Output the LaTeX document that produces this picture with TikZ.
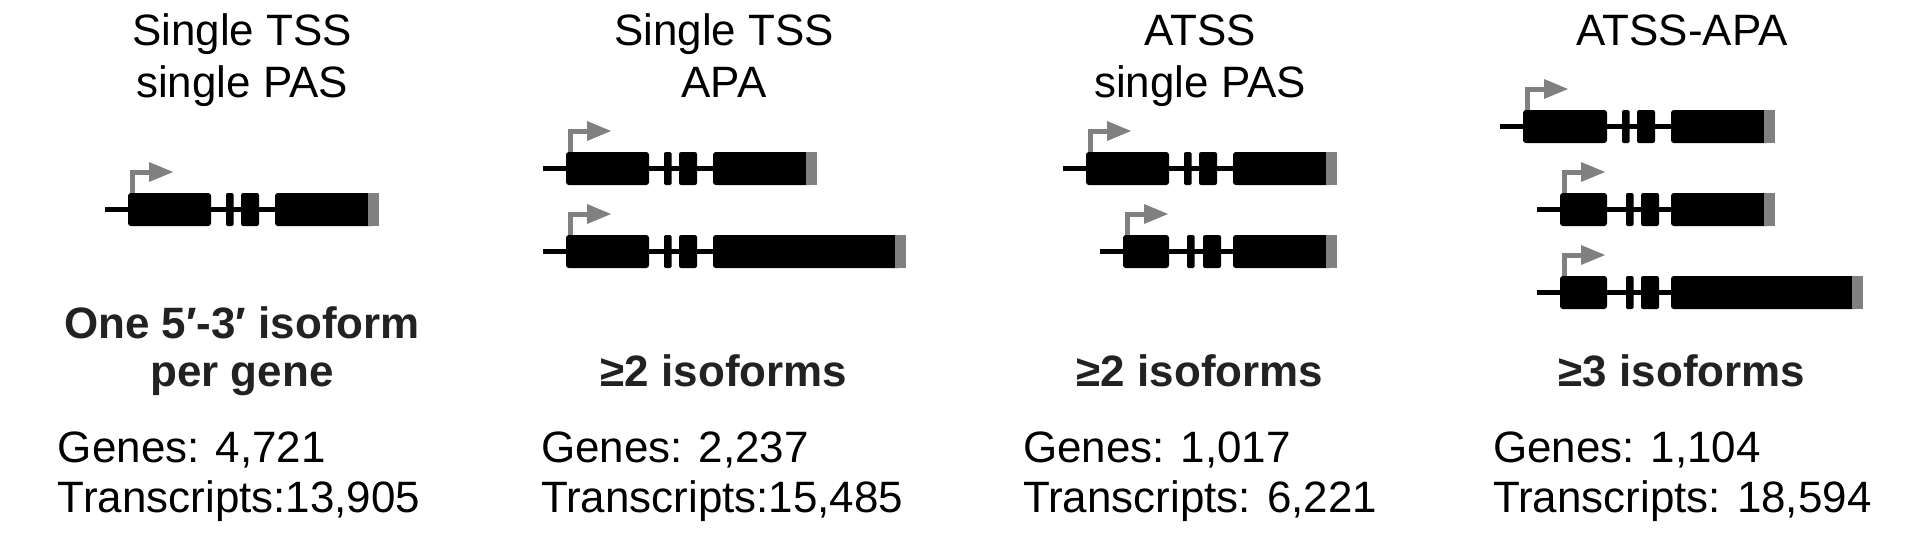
\documentclass[tikz,border=0pt]{standalone}
\usepackage{fontspec}
\setmainfont{Liberation Sans}
\definecolor{tssgrey}{RGB}{128,128,128}
\definecolor{pasgrey}{RGB}{128,128,128}
\definecolor{boldtxt}{RGB}{34,34,34}
% #1 ytop, #2 exon1 start, #3 exon1 end, #4 exon2 start, #5 exon3 start, #6 exon4 start, #7 grey end
\newcommand\genemdl[7]{%
  \draw[line width=0.5mm] ({#2-23},{#1+16.5}) -- (#6,{#1+16.5});
  \draw[tssgrey,line width=0.5mm,line join=miter] ({#2+4.5},{#1+3}) -- ({#2+4.5},{#1-21}) -- ({#2+23},{#1-21});
  \fill[tssgrey] ({#2+21},{#1-31}) -- ({#2+45},{#1-21}) -- ({#2+21},{#1-11}) -- cycle;
  \fill[rounded corners=0.8pt] (#2,#1) rectangle (#3,{#1+33});
  \fill[rounded corners=0.4pt] (#4,#1) rectangle ({#4+7.5},{#1+33});
  \fill[rounded corners=0.6pt] (#5,#1) rectangle ({#5+18},{#1+33});
  \fill[rounded corners=0.8pt] (#6,#1) rectangle ({#7-5},{#1+33});
  \fill[pasgrey] ({#7-11},#1) rectangle (#7,{#1+33});
}
\begin{document}
\begin{tikzpicture}[x=0.1mm,y=-0.1mm,
  txt/.style={inner sep=0pt,outer sep=0pt,font=\fontsize{12.5}{15}\selectfont},
  ttl/.style={txt,anchor=base},
  bld/.style={txt,anchor=base,text=boldtxt,font=\fontsize{12.5}{15}\selectfont\bfseries},
  sts/.style={txt,anchor=base west}]
\useasboundingbox (0,0) rectangle (1920,550);
\fill[white] (0,0) rectangle (1920,550);

% Titles
\node[ttl] (t1a) at (242,45) {Single TSS};
\node[ttl] (t1b) at (242,97) {single PAS};
\node[ttl] (t2a) at (724,45) {Single TSS};
\node[ttl] (t2b) at (724,97) {APA};
\node[ttl] (t3a) at (1200,45) {ATSS};
\node[ttl] (t3b) at (1200,97) {single PAS};
\node[ttl] (t4a) at (1682,45) {ATSS-APA};

% Gene models
\genemdl{193}{128}{211}{226}{241}{275}{379}
\genemdl{152}{566}{649}{664}{679}{713}{817}
\genemdl{235}{566}{649}{664}{679}{713}{906}
\genemdl{152}{1086}{1169}{1184}{1199}{1233}{1337}
\genemdl{235}{1123}{1169}{1187}{1203}{1233}{1337}
\genemdl{110}{1523}{1607}{1622}{1637}{1671}{1775}
\genemdl{193}{1560}{1607}{1626}{1641}{1671}{1775}
\genemdl{276}{1560}{1607}{1626}{1641}{1671}{1863}

% Bold labels
\node[bld] (b1a) at (242,338) {One 5′-3′ isoform};
\node[bld] (b1b) at (242,386) {per gene};
\node[bld] (b2) at (724,386) {≥2 isoforms};
\node[bld] (b3) at (1200,386) {≥2 isoforms};
\node[bld] (b4) at (1682,386) {≥3 isoforms};

% Statistics
\node[sts] (g1) at (58,462) {Genes: 4,721};
\node[sts] (r1) at (58,512) {Transcripts:13,905};
\node[sts] (g2) at (541,462) {Genes: 2,237};
\node[sts] (r2) at (541,512) {Transcripts:15,485};
\node[sts] (g3) at (1023,462) {Genes: 1,017};
\node[sts] (r3) at (1023,512) {Transcripts: 6,221};
\node[sts] (g4) at (1493,462) {Genes: 1,104};
\node[sts] (r4) at (1493,512) {Transcripts: 18,594};
\end{tikzpicture}
\end{document}
